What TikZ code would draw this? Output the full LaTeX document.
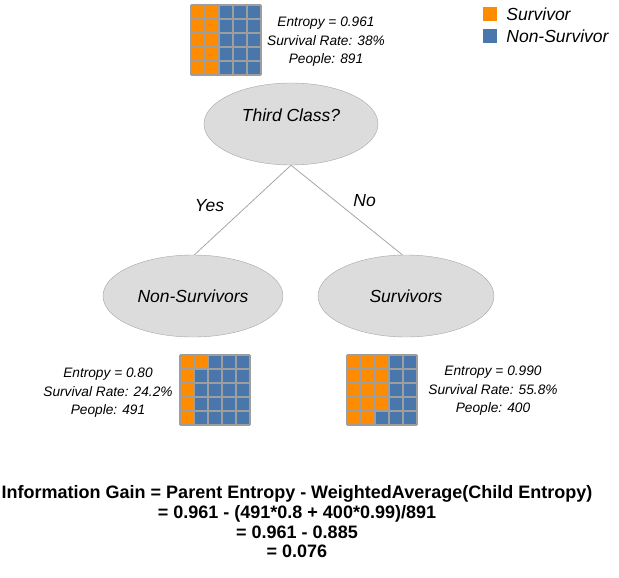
\documentclass[tikz,border=0pt]{standalone}
\usepackage{fontspec}
\setmainfont{Liberation Sans}
\usepackage{tikz}
\usetikzlibrary{shapes.geometric,positioning,calc}
\definecolor{survivor}{HTML}{FF8C00}
\definecolor{nonsurvivor}{HTML}{4A77AB}
\definecolor{cellline}{HTML}{9E9E9E}
\definecolor{nodefill}{HTML}{DCDCDC}
\definecolor{nodeline}{HTML}{A6A6A6}

% 5x5 grid of passengers, #3 = orange cells per row
\newcommand{\cellgrid}[3]{%
  \fill[nonsurvivor] (#1,#2) rectangle ++(70,70);
  \foreach \n [count=\r from 0] in {#3}
    \fill[survivor] (#1,#2+14*\r) rectangle ++(14*\n,14);
  \foreach \i in {0,...,5}{
    \draw[cellline,line width=1.2pt] (#1+14*\i,#2) -- ++(0,70);
    \draw[cellline,line width=1.2pt] (#1,#2+14*\i) -- ++(70,0);
  }
}

\begin{document}
\begin{tikzpicture}[x=1pt,y=-1pt,
  decision/.style={ellipse,draw=nodeline,fill=nodefill,minimum width=176pt,minimum height=82pt,inner sep=0pt,font=\itshape\fontsize{17.5}{20}\selectfont},
  stats/.style={align=center,inner sep=0pt,font=\itshape\fontsize{13.7}{18.5}\selectfont},
  answer/.style={inner sep=0pt,font=\itshape\fontsize{17.5}{20}\selectfont},
  key/.style={minimum size=14pt,inner sep=0pt},
  branch/.style={draw=nodeline,line width=0.8pt}]
\useasboundingbox (0,0) rectangle (619,578);

\node[decision,minimum width=174pt,text depth=18pt] (root) at (291,124) {Third Class?};
\node[decision,minimum width=180pt] (nonsurv) at (193,296) {Non-Survivors};
\node[decision] (surv) at (406,296) {Survivors};

\draw[branch] (root.south) -- node[answer,pos=0.45,xshift=-38pt] (yes) {Yes} (nonsurv.88);
\draw[branch] (root.south) -- node[answer,pos=0.4,xshift=29pt] (no) {No} (surv.95);

\cellgrid{191}{5}{2,2,2,2,2}
\cellgrid{180}{355}{2,1,1,1,1}
\cellgrid{347}{355}{3,3,3,3,2}

\node[stats] (rootstats) at (326,42) {Entropy = 0.961\\Survival Rate: 38\%\\People: 891};
\node[stats] (nonsurvstats) at (108,393) {Entropy = 0.80\\Survival Rate: 24.2\%\\People: 491};
\node[stats] (survstats) at (493,391) {Entropy = 0.990\\Survival Rate: 55.8\%\\People: 400};

\node[key,fill=survivor] (keysurv) at (490,14) {};
\node[answer,right=9pt of keysurv] (keysurvtext) {Survivor};
\node[key,fill=nonsurvivor] (keynon) at (490,36) {};
\node[answer,right=9pt of keynon] (keynontext) {Non-Survivor};

\node[align=center,inner sep=0pt,font=\bfseries\fontsize{18}{19.7}\selectfont] (gain) at (297,522)
  {Information Gain = Parent Entropy - WeightedAverage(Child Entropy)\\
   = 0.961 - (491*0.8 + 400*0.99)/891\\
   = 0.961 - 0.885\\
   = 0.076};
\end{tikzpicture}
\end{document}
